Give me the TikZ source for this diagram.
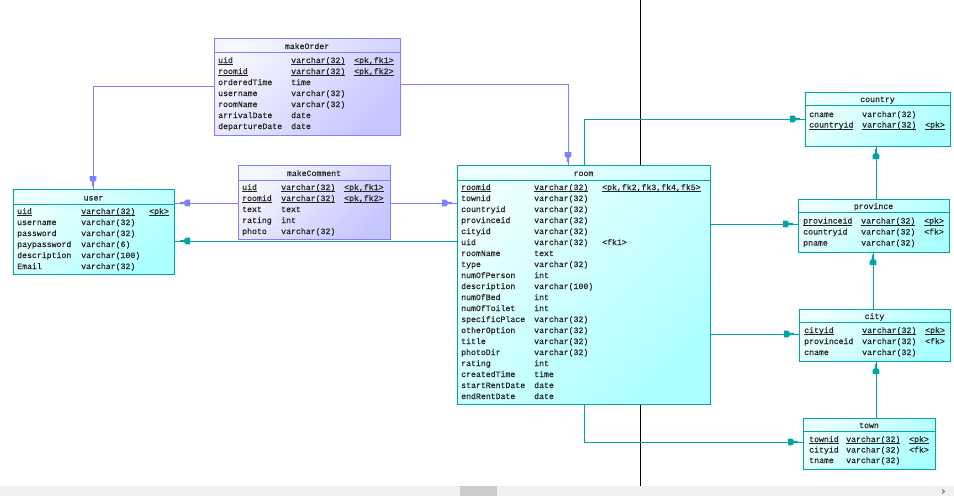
\documentclass[tikz,border=0pt]{standalone}
\usepackage{fontspec}
\usetikzlibrary{decorations.markings}
\newfontfamily\tabmono[FakeBold=0.5]{Liberation Mono}
\definecolor{ocol}{RGB}{128,128,255}
\definecolor{tcol}{RGB}{0,166,166}
\definecolor{oA}{RGB}{246,246,255}
\definecolor{oB}{RGB}{198,198,255}
\definecolor{cA}{RGB}{236,255,255}
\definecolor{cB}{RGB}{172,255,255}
\newcommand\tbfont{\tabmono\fontsize{8.2}{10}\selectfont}
\newcommand\ulx[1]{\setbox0\hbox{#1}\rlap{\rule[-2.2pt]{\wd0}{0.8pt}}\box0}
\newcommand\trow[4]{\node[tx] at (\ca,#1) {#2};\node[tx] at (\cb,#1) {#3};\node[tx] at (\cc,#1) {#4};}
\tikzset{
  tx/.style={anchor=base west, inner sep=0pt, font=\tbfont, text=black!85},
  ttl/.style={anchor=base, inner sep=0pt, font=\tbfont, text=black!85},
  obox/.style={draw=ocol, line width=1pt, anchor=north west, inner sep=0pt, outer sep=0pt,
    top color=oA, bottom color=oB, shading angle=45},
  cbox/.style={draw=tcol, line width=1pt, anchor=north west, inner sep=0pt, outer sep=0pt,
    top color=cA, bottom color=cB, shading angle=45},
  pdarrow/.style 2 args={postaction={decorate,decoration={markings,
    mark=at position -#2 with {\fill[#1] (0pt,-1.2pt) -- (0pt,1.2pt) -- (-4pt,1.2pt) -- (-6pt,3.3pt) -- (-10pt,3.3pt) -- (-10pt,-3.3pt) -- (-6pt,-3.3pt) -- (-4pt,-1.2pt) -- cycle;}}}},
  oline/.style={draw=ocol, line width=1pt},
  tline/.style={draw=tcol, line width=1pt},
}
\begin{document}
\begin{tikzpicture}[x=1pt,y=-1pt]
\useasboundingbox (0,0) rectangle (954,496);
\fill[white] (0,0) rectangle (954,496);
% divider line
\draw[black, line width=1pt] (640,0) -- (640,486);
% scrollbar
\fill[black!6] (0,486) rectangle (954,496);
\fill[black!20] (460,486) rectangle (497,496);
\draw[black!60, line width=0.8pt] (942,489.5) -- (944.5,491.5) -- (942,493.5);

% ---------- tables ----------
\node[obox, minimum width=186pt, minimum height=97pt] (makeOrder) at (214,38) {};
\draw[ocol, line width=1pt] (makeOrder.west |- 0,52) -- (makeOrder.east |- 0,52);
\node[ttl] at (makeOrder.north |- 0,49) {makeOrder};
\def\ca{218}\def\cb{291}\def\cc{354}
\trow{63}{\ulx{uid}}{\ulx{varchar(32)}}{\ulx{<pk,fk1>}}
\trow{74}{\ulx{roomid}}{\ulx{varchar(32)}}{\ulx{<pk,fk2>}}
\trow{85}{orderedTime}{time}{}
\trow{96}{username}{varchar(32)}{}
\trow{107}{roomName}{varchar(32)}{}
\trow{118}{arrivalDate}{date}{}
\trow{129}{departureDate}{date}{}

\node[obox, minimum width=152pt, minimum height=74pt] (makeComment) at (238,165) {};
\draw[ocol, line width=1pt] (makeComment.west |- 0,180) -- (makeComment.east |- 0,180);
\node[ttl] at (makeComment.north |- 0,176) {makeComment};
\def\ca{242}\def\cb{281}\def\cc{344}
\trow{190}{\ulx{uid}}{\ulx{varchar(32)}}{\ulx{<pk,fk1>}}
\trow{201}{\ulx{roomid}}{\ulx{varchar(32)}}{\ulx{<pk,fk2>}}
\trow{212}{text}{text}{}
\trow{223}{rating}{int}{}
\trow{234}{photo}{varchar(32)}{}

\node[cbox, minimum width=161pt, minimum height=85pt] (user) at (13,189) {};
\draw[tcol, line width=1pt] (user.west |- 0,204) -- (user.east |- 0,204);
\node[ttl] at (user.north |- 0,200.5) {user};
\def\ca{17}\def\cb{81}\def\cc{149}
\trow{214}{\ulx{uid}}{\ulx{varchar(32)}}{\ulx{<pk>}}
\trow{225}{username}{varchar(32)}{}
\trow{236}{password}{varchar(32)}{}
\trow{247}{paypassword}{varchar(6)}{}
\trow{258}{description}{varchar(100)}{}
\trow{269}{Email}{varchar(32)}{}

\node[cbox, minimum width=253pt, minimum height=239pt] (room) at (457,165) {};
\draw[tcol, line width=1pt] (room.west |- 0,180) -- (room.east |- 0,180);
\node[ttl] at (room.north |- 0,176) {room};
\def\ca{461}\def\cb{534}\def\cc{602}
\trow{190}{\ulx{roomid}}{\ulx{varchar(32)}}{\ulx{<pk,fk2,fk3,fk4,fk5>}}
\trow{201}{townid}{varchar(32)}{}
\trow{212}{countryid}{varchar(32)}{}
\trow{223}{provinceid}{varchar(32)}{}
\trow{234}{cityid}{varchar(32)}{}
\trow{245}{uid}{varchar(32)}{<fk1>}
\trow{256}{roomName}{text}{}
\trow{267}{type}{varchar(32)}{}
\trow{278}{numOfPerson}{int}{}
\trow{289}{description}{varchar(100)}{}
\trow{300}{numOfBed}{int}{}
\trow{311}{numOfToilet}{int}{}
\trow{322}{specificPlace}{varchar(32)}{}
\trow{333}{otherOption}{varchar(32)}{}
\trow{344}{title}{varchar(32)}{}
\trow{355}{photoDir}{varchar(32)}{}
\trow{366}{rating}{int}{}
\trow{377}{createdTime}{time}{}
\trow{388}{startRentDate}{date}{}
\trow{399}{endRentDate}{date}{}

\node[cbox, minimum width=145pt, minimum height=54pt] (country) at (805,92) {};
\draw[tcol, line width=1pt] (country.west |- 0,105.7) -- (country.east |- 0,105.7);
\node[ttl] at (country.north |- 0,102) {country};
\def\ca{809}\def\cb{862}\def\cc{925}
\trow{117}{cname}{varchar(32)}{}
\trow{127.5}{\ulx{countryid}}{\ulx{varchar(32)}}{\ulx{<pk>}}

\node[cbox, minimum width=151pt, minimum height=53pt] (province) at (798,199) {};
\draw[tcol, line width=1pt] (province.west |- 0,212.7) -- (province.east |- 0,212.7);
\node[ttl] at (province.north |- 0,209) {province};
\def\ca{803}\def\cb{861}\def\cc{924}
\trow{223.5}{\ulx{provinceid}}{\ulx{varchar(32)}}{\ulx{<pk>}}
\trow{234.5}{countryid}{varchar(32)}{<fk>}
\trow{245.5}{pname}{varchar(32)}{}

\node[cbox, minimum width=151pt, minimum height=52pt] (city) at (799,309) {};
\draw[tcol, line width=1pt] (city.west |- 0,322.7) -- (city.east |- 0,322.7);
\node[ttl] at (city.north |- 0,319) {city};
\def\ca{804}\def\cb{862}\def\cc{925}
\trow{333}{\ulx{cityid}}{\ulx{varchar(32)}}{\ulx{<pk>}}
\trow{344}{provinceid}{varchar(32)}{<fk>}
\trow{355}{cname}{varchar(32)}{}

\node[cbox, minimum width=132pt, minimum height=51pt] (town) at (803,418) {};
\draw[tcol, line width=1pt] (town.west |- 0,431) -- (town.east |- 0,431);
\node[ttl] at (town.north |- 0,428) {town};
\def\ca{809}\def\cb{846}\def\cc{909}
\trow{442}{\ulx{townid}}{\ulx{varchar(32)}}{\ulx{<pk>}}
\trow{452.5}{cityid}{varchar(32)}{<fk>}
\trow{463}{tname}{varchar(32)}{}

% ---------- connectors ----------
\path[oline, pdarrow={ocol}{3pt}] (makeOrder.west |- 0,86) -| (user.north -| 93,0);
\path[oline, pdarrow={ocol}{3pt}] (makeOrder.east |- 0,84) -| (room.north -| 568,0);
\path[oline, pdarrow={ocol}{6pt}] (makeComment.west |- 0,203) -- (user.east |- 0,203);
\path[oline, pdarrow={ocol}{5pt}] (makeComment.east |- 0,203) -- (room.west |- 0,203);
\path[tline, pdarrow={tcol}{6pt}] (room.west |- 0,241) -- (user.east |- 0,241);
\path[tline, pdarrow={tcol}{5pt}] (room.north -| 584,0) |- (country.west |- 0,119);
\path[tline, pdarrow={tcol}{5pt}] (room.east |- 0,224) -- (province.west |- 0,224);
\path[tline, pdarrow={tcol}{5pt}] (room.east |- 0,334) -- (city.west |- 0,334);
\path[tline, pdarrow={tcol}{5pt}] (room.south -| 584,0) |- (town.west |- 0,442);
\path[tline, pdarrow={tcol}{3pt}] (province.north -| 876,0) -- (country.south -| 876,0);
\path[tline, pdarrow={tcol}{3pt}] (city.north -| 873,0) -- (province.south -| 873,0);
\path[tline, pdarrow={tcol}{3pt}] (town.north -| 876,0) -- (city.south -| 876,0);
\end{tikzpicture}
\end{document}
